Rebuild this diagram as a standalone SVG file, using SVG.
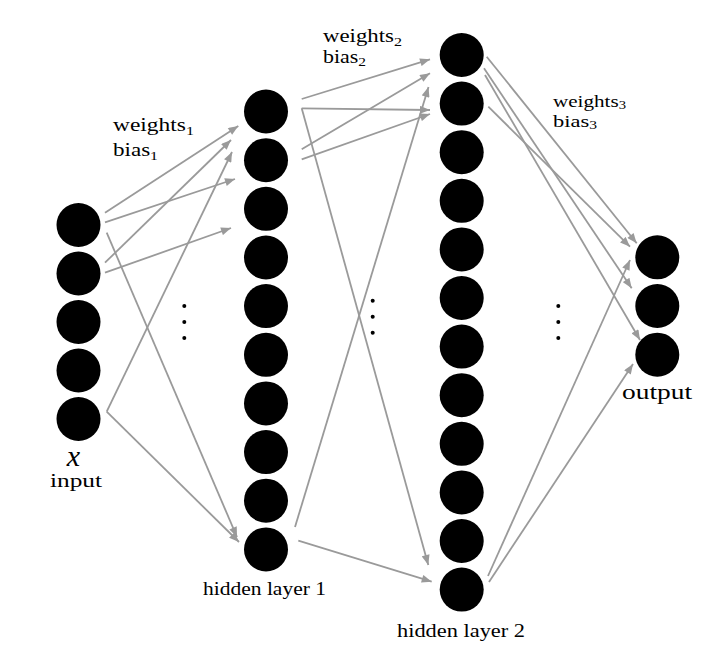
<svg xmlns="http://www.w3.org/2000/svg" width="712" height="660" viewBox="0 0 712 660">
<style>
.n{fill:#000}
.e{stroke:#9a9a9a;stroke-width:1.8;fill:none;marker-end:url(#ah)}
.t{font-family:"Liberation Serif","DejaVu Serif",serif;fill:#000}
.m{font-family:"Liberation Serif",serif;font-style:italic;fill:#000}
.d{fill:#000}
</style>
<defs>
<marker id="ah" viewBox="0 0 10 8" markerWidth="11" markerHeight="8" markerUnits="userSpaceOnUse" refX="10" refY="4" orient="auto">
<path d="M0,0 L10,4 L0,8 z" fill="#9a9a9a"/>
</marker>
</defs>
<rect width="712" height="660" fill="#fff"/>
<g id="connectors">
<line class="e" x1="105" y1="212.7" x2="238.3" y2="126"/>
<line class="e" x1="105" y1="222.3" x2="235" y2="179"/>
<line class="e" x1="106.7" y1="232.7" x2="237" y2="537"/>
<line class="e" x1="105" y1="262.7" x2="231" y2="140"/>
<line class="e" x1="105" y1="272.7" x2="231" y2="228"/>
<line class="e" x1="106.7" y1="411.7" x2="232" y2="152"/>
<line class="e" x1="106.7" y1="411.7" x2="239" y2="542"/>
<line class="e" x1="301.7" y1="99" x2="430" y2="59.3"/>
<line class="e" x1="301.7" y1="108.3" x2="430" y2="110"/>
<line class="e" x1="301.7" y1="108.3" x2="428.3" y2="565"/>
<line class="e" x1="301.7" y1="149.3" x2="430" y2="73.3"/>
<line class="e" x1="301.7" y1="159.3" x2="430" y2="114"/>
<line class="e" x1="295" y1="527" x2="428.5" y2="87"/>
<line class="e" x1="298.3" y1="540.7" x2="431.7" y2="581.7"/>
<line class="e" x1="486.7" y1="56.7" x2="636.7" y2="243.3"/>
<line class="e" x1="484" y1="68.3" x2="631.7" y2="288.3"/>
<line class="e" x1="485" y1="75" x2="640" y2="340"/>
<line class="e" x1="488.3" y1="106.7" x2="630" y2="246.7"/>
<line class="e" x1="488" y1="576" x2="630" y2="260"/>
<line class="e" x1="489" y1="582" x2="633" y2="364"/>
</g>
<g id="input">
<g id="in1"><circle class="n" cx="78.5" cy="225" r="22"/></g>
<g id="in2"><circle class="n" cx="78.5" cy="273.5" r="22"/></g>
<g id="in3"><circle class="n" cx="78.5" cy="322" r="22"/></g>
<g id="in4"><circle class="n" cx="78.5" cy="370.5" r="22"/></g>
<g id="in5"><circle class="n" cx="78.5" cy="419" r="22"/></g>
</g>
<g id="hidden1">
<g id="h1_1"><circle class="n" cx="266" cy="111.5" r="22"/></g>
<g id="h1_2"><circle class="n" cx="266" cy="160.2" r="22"/></g>
<g id="h1_3"><circle class="n" cx="266" cy="208.8" r="22"/></g>
<g id="h1_4"><circle class="n" cx="266" cy="257.5" r="22"/></g>
<g id="h1_5"><circle class="n" cx="266" cy="306.1" r="22"/></g>
<g id="h1_6"><circle class="n" cx="266" cy="354.8" r="22"/></g>
<g id="h1_7"><circle class="n" cx="266" cy="403.4" r="22"/></g>
<g id="h1_8"><circle class="n" cx="266" cy="452.1" r="22"/></g>
<g id="h1_9"><circle class="n" cx="266" cy="500.7" r="22"/></g>
<g id="h1_10"><circle class="n" cx="266" cy="549.4" r="22"/></g>
</g>
<g id="hidden2">
<g id="h2_1"><circle class="n" cx="461.7" cy="55" r="22"/></g>
<g id="h2_2"><circle class="n" cx="461.7" cy="103.6" r="22"/></g>
<g id="h2_3"><circle class="n" cx="461.7" cy="152.2" r="22"/></g>
<g id="h2_4"><circle class="n" cx="461.7" cy="200.8" r="22"/></g>
<g id="h2_5"><circle class="n" cx="461.7" cy="249.4" r="22"/></g>
<g id="h2_6"><circle class="n" cx="461.7" cy="298" r="22"/></g>
<g id="h2_7"><circle class="n" cx="461.7" cy="346.6" r="22"/></g>
<g id="h2_8"><circle class="n" cx="461.7" cy="395.2" r="22"/></g>
<g id="h2_9"><circle class="n" cx="461.7" cy="443.8" r="22"/></g>
<g id="h2_10"><circle class="n" cx="461.7" cy="492.4" r="22"/></g>
<g id="h2_11"><circle class="n" cx="461.7" cy="541" r="22"/></g>
<g id="h2_12"><circle class="n" cx="461.7" cy="589.6" r="22"/></g>
</g>
<g id="output">
<g id="out1"><circle class="n" cx="657.3" cy="257.3" r="22"/></g>
<g id="out2"><circle class="n" cx="657.3" cy="306" r="22"/></g>
<g id="out3"><circle class="n" cx="657.3" cy="354.7" r="22"/></g>
</g>
<g id="ellipses">
<circle class="d" cx="184.3" cy="306" r="2"/>
<circle class="d" cx="184.3" cy="322" r="2"/>
<circle class="d" cx="184.3" cy="338" r="2"/>
<circle class="d" cx="372.7" cy="300.7" r="2"/>
<circle class="d" cx="372.7" cy="316.7" r="2"/>
<circle class="d" cx="372.7" cy="332.7" r="2"/>
<circle class="d" cx="558.3" cy="306" r="2"/>
<circle class="d" cx="558.3" cy="322" r="2"/>
<circle class="d" cx="558.3" cy="338" r="2"/>
</g>
<g id="labels">
<text class="t" x="113" y="131" font-size="19" textLength="81" lengthAdjust="spacingAndGlyphs">weights<tspan font-size="13" dy="4">1</tspan></text>
<text class="t" x="113" y="155.5" font-size="19" textLength="45" lengthAdjust="spacingAndGlyphs">bias<tspan font-size="13" dy="4">1</tspan></text>
<text class="t" x="323" y="42" font-size="18.5" textLength="79" lengthAdjust="spacingAndGlyphs">weights<tspan font-size="13" dy="3.5">2</tspan></text>
<text class="t" x="323" y="62.5" font-size="18.5" textLength="43" lengthAdjust="spacingAndGlyphs">bias<tspan font-size="13" dy="3.5">2</tspan></text>
<text class="t" x="553" y="106.5" font-size="16.5" textLength="73" lengthAdjust="spacingAndGlyphs">weights<tspan font-size="11.5" dy="2.5">3</tspan></text>
<text class="t" x="553" y="126.5" font-size="16.5" textLength="44" lengthAdjust="spacingAndGlyphs">bias<tspan font-size="11.5" dy="2.5">3</tspan></text>
<text class="m" x="73.5" y="466" font-size="30" text-anchor="middle">x</text>
<text class="t" x="50" y="487" font-size="19" textLength="52" lengthAdjust="spacingAndGlyphs">input</text>
<text class="t" x="203" y="595" font-size="19" textLength="123" lengthAdjust="spacingAndGlyphs">hidden layer 1</text>
<text class="t" x="397" y="637" font-size="19" textLength="128" lengthAdjust="spacingAndGlyphs">hidden layer 2</text>
<text class="t" x="622" y="399" font-size="21" textLength="70" lengthAdjust="spacingAndGlyphs">output</text>
</g>
</svg>
